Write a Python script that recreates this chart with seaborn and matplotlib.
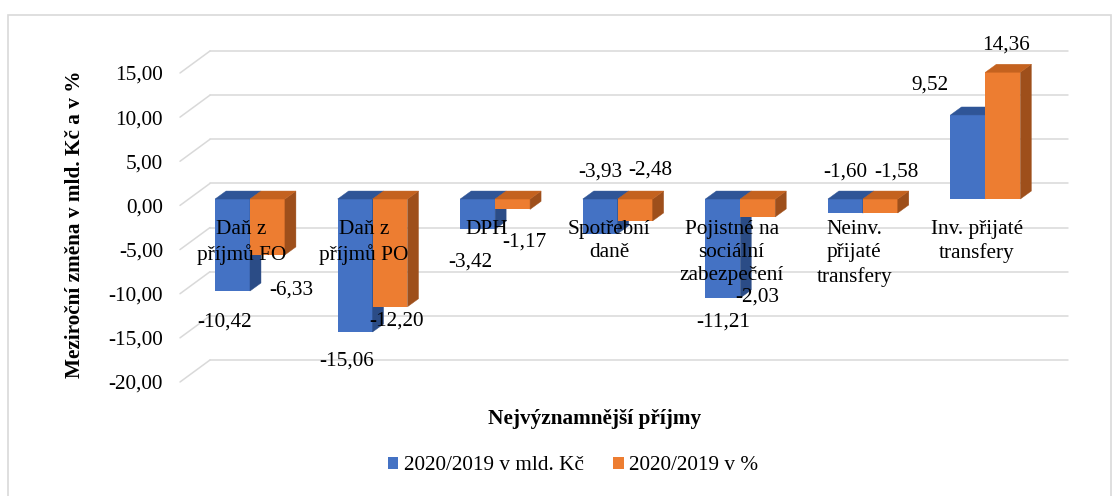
import matplotlib
matplotlib.use("Agg")
import matplotlib.pyplot as plt
import pandas as pd
import seaborn as sns
from matplotlib.patches import Polygon, Rectangle
from matplotlib.transforms import ScaledTranslation
from matplotlib.ticker import FuncFormatter

# ---- data -------------------------------------------------------------
categories = [
    "Daň z\npříjmů FO",
    "Daň z\npříjmů PO",
    "DPH",
    "Spotřební\ndaně",
    "Pojistné na\nsociální\nzabezpečení",
    "Neinv.\npřijaté\ntransfery",
    "Inv. přijaté\ntransfery",
]
series = ["2020/2019 v mld. Kč", "2020/2019 v %"]
change_mld = [-10.42, -15.06, -3.42, -3.93, -11.21, -1.60, 9.52]
change_pct = [-6.33, -12.20, -1.17, -2.48, -2.03, -1.58, 14.36]
y_ticks = [-20, -15, -10, -5, 0, 5, 10, 15]

# value-label placement relative to the end of each bar (px right, px down)
label_shift_mld = [(-7.5, 31), (-8, 29), (-7.6, 33), (0, -62), (0, 24), (0, -41), (-38, -30)]
label_shift_pct = [(23.5, 35), (6, 14), (12, 33), (15, -51), (0, 80), (16, -41), (3, -27)]

# ---- style ------------------------------------------------------------
sns.set_style("white")
plt.rcParams["font.family"] = ["Liberation Serif", "DejaVu Serif"]
plt.rcParams["font.size"] = 15.3
for key in ("text.color", "axes.labelcolor", "xtick.color", "ytick.color"):
    plt.rcParams[key] = "black"

BLUE = ("#4472C4", "#2F5597", "#2B4C86")     # front, top, side
ORANGE = ("#ED7D31", "#C4621F", "#9E4F1B")
GRID = "#D9D9D9"

W, H, DPI = 1119, 496, 100
AX_L, AX_R, AX_T, AX_B = 180, 1038, 73, 382   # front plane, px from top-left

fig = plt.figure(figsize=(W / DPI, H / DPI), dpi=DPI)
ax = fig.add_axes([AX_L / W, 1 - AX_B / H, (AX_R - AX_L) / W, (AX_B - AX_T) / H])

df = pd.DataFrame({
    "kategorie": categories * 2,
    "řada": [series[0]] * len(categories) + [series[1]] * len(categories),
    "hodnota": change_mld + change_pct,
})

sns.barplot(data=df, x="kategorie", y="hodnota", hue="řada",
            palette=[BLUE[0], ORANGE[0]], saturation=1, width=0.57,
            linewidth=0, ax=ax)

XLIM = (-0.5, len(categories) - 0.5)
YLIM = (y_ticks[0], y_ticks[-1])
sx = (AX_R - AX_L) / (XLIM[1] - XLIM[0])      # px per category unit
sy = (AX_B - AX_T) / (YLIM[1] - YLIM[0])      # px per value unit


def shifted(dx_px, dy_px):
    return ax.transData + ScaledTranslation(dx_px / DPI, dy_px / DPI, fig.dpi_scale_trans)


wall_tr = shifted(30, 22)      # back wall
bar_tr = shifted(8.7, 6.4)     # plane of the bar fronts
depth_x, depth_y = 11 / sx, 8 / sy

# back-wall grid with short receding lines from the value axis
for v in y_ticks:
    ax.plot([XLIM[0], XLIM[1]], [v, v], transform=wall_tr, color=GRID,
            lw=1.1, clip_on=False, zorder=0.5)
    ax.plot([XLIM[0], XLIM[0] + 30 / sx], [v, v + 22 / sy], color=GRID,
            lw=1.1, clip_on=False, zorder=0.5)


def fmt(v):
    return f"{v:.2f}".replace(".", ",")


for k, (container, values, shifts, cols) in enumerate(zip(
        ax.containers, [change_mld, change_pct],
        [label_shift_mld, label_shift_pct], [BLUE, ORANGE])):
    base_z = 3 + k
    for p, v, (ox, oy) in zip(container.patches, values, shifts):
        p.set_transform(bar_tr)
        p.set_clip_on(False)
        p.set_zorder(base_z)
        x0, w = p.get_x(), p.get_width()
        lo, hi = min(0, v), max(0, v)
        side = Polygon([(x0 + w, lo), (x0 + w + depth_x, lo + depth_y),
                        (x0 + w + depth_x, hi + depth_y), (x0 + w, hi)],
                       closed=True, transform=bar_tr, facecolor=cols[2],
                       edgecolor=cols[2], lw=0.3, clip_on=False, zorder=base_z + 0.1)
        top = Polygon([(x0, hi), (x0 + w, hi), (x0 + w + depth_x, hi + depth_y),
                       (x0 + depth_x, hi + depth_y)],
                      closed=True, transform=bar_tr, facecolor=cols[1],
                      edgecolor=cols[1], lw=0.3, clip_on=False, zorder=base_z + 0.2)
        ax.add_patch(side)
        ax.add_patch(top)
        ax.annotate(fmt(v), xy=(x0 + w / 2, v), xycoords=bar_tr,
                    xytext=(ox, -oy), textcoords="offset pixels",
                    ha="center", va="center", zorder=8, annotation_clip=False)

# axes
ax.set_xlim(*XLIM)
ax.set_ylim(*YLIM)
ax.set_yticks(y_ticks)
ax.yaxis.set_major_formatter(FuncFormatter(lambda v, _: fmt(v)))
for s in ax.spines.values():
    s.set_color("none")
ax.spines["bottom"].set_position(("data", 0))
ax.tick_params(axis="y", length=0, pad=12.2)
ax.tick_params(axis="x", length=0, pad=10.5)
for lab in ax.get_xticklabels():
    lab.set_linespacing(1.3)
ax.xaxis.set_zorder(10)

ax.set_ylabel("Meziroční změna v mld. Kč a v %", fontweight="bold", va="center")
ax.yaxis.set_label_coords((75 - AX_L) / (AX_R - AX_L), (AX_B - 224) / (AX_B - AX_T))
ax.set_xlabel("Nejvýznamnější příjmy", fontweight="bold", va="center")
ax.xaxis.set_label_coords((595 - AX_L) / (AX_R - AX_L), (AX_B - 419) / (AX_B - AX_T))

sns.move_legend(ax, "center", bbox_to_anchor=(573 / W, 1 - 466 / H),
                bbox_transform=fig.transFigure, ncol=2, title=None, frameon=False,
                handlelength=0.5, handleheight=0.5, handletextpad=0.25,
                columnspacing=1.4, fontsize=15.3)

# chart-area border
fig.patches.append(Rectangle((8 / W, -0.02), (1111 - 8) / W, 1 - 15 / H + 0.02,
                             transform=fig.transFigure, fill=False,
                             edgecolor=GRID, lw=1.2))

fig.savefig("out.png", dpi=DPI)
